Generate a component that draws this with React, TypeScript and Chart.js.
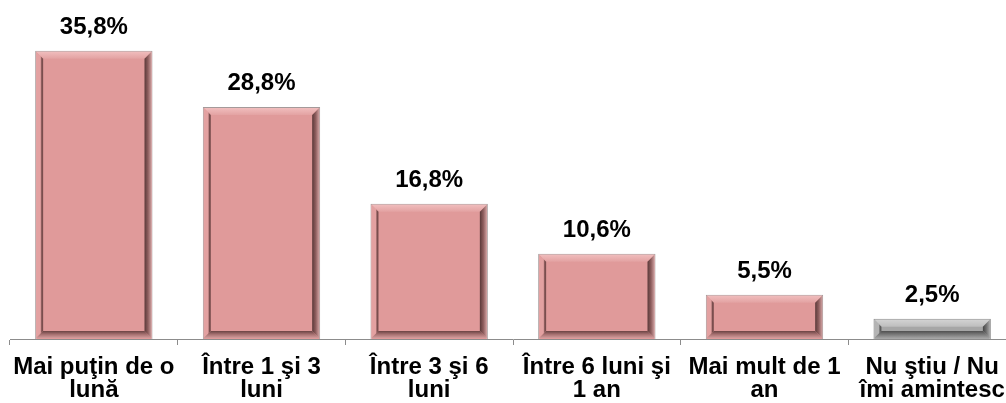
import React, { useEffect, useRef } from 'react';
import { Chart, registerables } from 'chart.js';

Chart.register(...registerables);

const categories: string[][] = [
  ['Mai puţin de o', 'lună'],
  ['Între 1 şi 3', 'luni'],
  ['Între 3 şi 6', 'luni'],
  ['Între 6 luni şi', '1 an'],
  ['Mai mult de 1', 'an'],
  ['Nu ştiu / Nu', 'îmi amintesc'],
];
const values: number[] = [35.8, 28.8, 16.8, 10.6, 5.5, 2.5];
const valueLabels: string[] = ['35,8%', '28,8%', '16,8%', '10,6%', '5,5%', '2,5%'];
const barKinds: string[] = ['pink', 'pink', 'pink', 'pink', 'pink', 'grey'];

const FONT = '"Liberation Sans", Arial, sans-serif';

const palettes: Record<string, any> = {
  pink: {
    face: '#E09A9A', border: '#A49A9A',
    topOuter: '#F0BDBD', topInner: '#E3A2A2',
    leftOuter: '#E3A1A1', leftInner: '#7A4E4E',
    rightOuter: '#CFA0A0', rightMid: '#8E5E5E', rightInner: '#5A3939',
    bottomOuter: '#D29C9C', bottomMid: '#A87272', bottomInner: '#6A4343',
  },
  grey: {
    face: '#A6A6A6', border: '#8A8A8A',
    topOuter: '#D2D2D2', topInner: '#BDBDBD',
    leftOuter: '#B4B4B4', leftInner: '#5C5C5C',
    rightOuter: '#A8A8A8', rightMid: '#707070', rightInner: '#444444',
    bottomOuter: '#A2A2A2', bottomMid: '#7A7A7A', bottomInner: '#505050',
  },
};

function poly(ctx: CanvasRenderingContext2D, pts: number[][], fill: any) {
  ctx.beginPath();
  ctx.moveTo(pts[0][0], pts[0][1]);
  for (let i = 1; i < pts.length; i++) ctx.lineTo(pts[i][0], pts[i][1]);
  ctx.closePath();
  ctx.fillStyle = fill;
  ctx.fill();
}

const bevelPlugin = {
  id: 'bevel',
  afterDatasetsDraw(chart: any) {
    const ctx: CanvasRenderingContext2D = chart.ctx;
    const meta = chart.getDatasetMeta(0);
    ctx.save();
    meta.data.forEach((el: any, i: number) => {
      const { x, y, base, width } = el.getProps(['x', 'y', 'base', 'width'], true);
      const p = palettes[barKinds[i]];
      const L = x - width / 2 + 1, R = x + width / 2 - 1, T = y + 1, B = base - 1;
      const b = Math.min(7, (B - T) / 2.6);
      // top
      let g = ctx.createLinearGradient(0, T, 0, T + b);
      g.addColorStop(0, p.topOuter); g.addColorStop(1, p.topInner);
      poly(ctx, [[L, T], [R, T], [R - b, T + b], [L + b, T + b]], g);
      // left
      g = ctx.createLinearGradient(L, 0, L + b, 0);
      g.addColorStop(0, p.leftOuter); g.addColorStop(0.6, p.leftOuter); g.addColorStop(0.8, p.leftInner); g.addColorStop(1, p.leftInner);
      poly(ctx, [[L, T], [L + b, T + b], [L + b, B - b], [L, B]], g);
      // right
      g = ctx.createLinearGradient(R - b, 0, R, 0);
      g.addColorStop(0, p.rightInner); g.addColorStop(0.5, p.rightMid); g.addColorStop(1, p.rightOuter);
      poly(ctx, [[R, T], [R, B], [R - b, B - b], [R - b, T + b]], g);
      // bottom
      g = ctx.createLinearGradient(0, B - b, 0, B);
      g.addColorStop(0, p.bottomInner); g.addColorStop(0.5, p.bottomMid); g.addColorStop(1, p.bottomOuter);
      poly(ctx, [[L, B], [R, B], [R - b, B - b], [L + b, B - b]], g);
    });
    ctx.restore();
  },
};

const valueLabelPlugin = {
  id: 'valueLabels',
  afterDatasetsDraw(chart: any) {
    const ctx: CanvasRenderingContext2D = chart.ctx;
    const meta = chart.getDatasetMeta(0);
    ctx.save();
    ctx.font = `bold 24px ${FONT}`;
    ctx.fillStyle = '#000000';
    ctx.textAlign = 'center';
    ctx.textBaseline = 'alphabetic';
    meta.data.forEach((el: any, i: number) => {
      const { x, y } = el.getProps(['x', 'y'], true);
      ctx.fillText(valueLabels[i], x, y - 17);
    });
    ctx.restore();
  },
};

export default function App() {
  const ref = useRef<HTMLCanvasElement | null>(null);

  useEffect(() => {
    if (!ref.current) return;
    const chart = new Chart(ref.current, {
      type: 'bar',
      data: {
        labels: categories,
        datasets: [
          {
            data: values,
            backgroundColor: barKinds.map((k) => palettes[k].face),
            borderColor: barKinds.map((k) => palettes[k].border),
            borderWidth: 1,
            categoryPercentage: 1,
            barPercentage: 0.7,
          },
        ],
      },
      options: {
        responsive: false,
        animation: false,
        layout: { padding: { left: 10, right: 4, top: 0, bottom: 0 } },
        plugins: {
          legend: { display: false },
          tooltip: { enabled: false },
        },
        scales: {
          y: {
            display: false,
            min: 0,
            max: 42.1,
            grid: { display: false },
            border: { display: false },
            ticks: { display: false },
          },
          x: {
            afterFit: (scale: any) => { scale.height = 64; },
            grid: {
              offset: true,
              drawOnChartArea: false,
              drawTicks: true,
              tickLength: 6,
              color: '#8C8C8C',
              lineWidth: 1,
            },
            border: { display: true, color: '#8C8C8C', width: 1 },
            ticks: {
              autoSkip: false,
              maxRotation: 0,
              minRotation: 0,
              padding: 11,
              color: '#000000',
              font: { family: FONT, size: 24, weight: 'bold', lineHeight: 0.96 },
            },
          },
        },
      },
      plugins: [bevelPlugin, valueLabelPlugin],
    } as any);
    return () => chart.destroy();
  }, []);

  return (
    <div style={{ position: 'fixed', left: 0, top: 0, width: 1006, height: 403, overflow: 'hidden', background: '#ffffff' }}>
      <canvas ref={ref} width={1020} height={403} style={{ display: 'block' }} />
    </div>
  );
}
